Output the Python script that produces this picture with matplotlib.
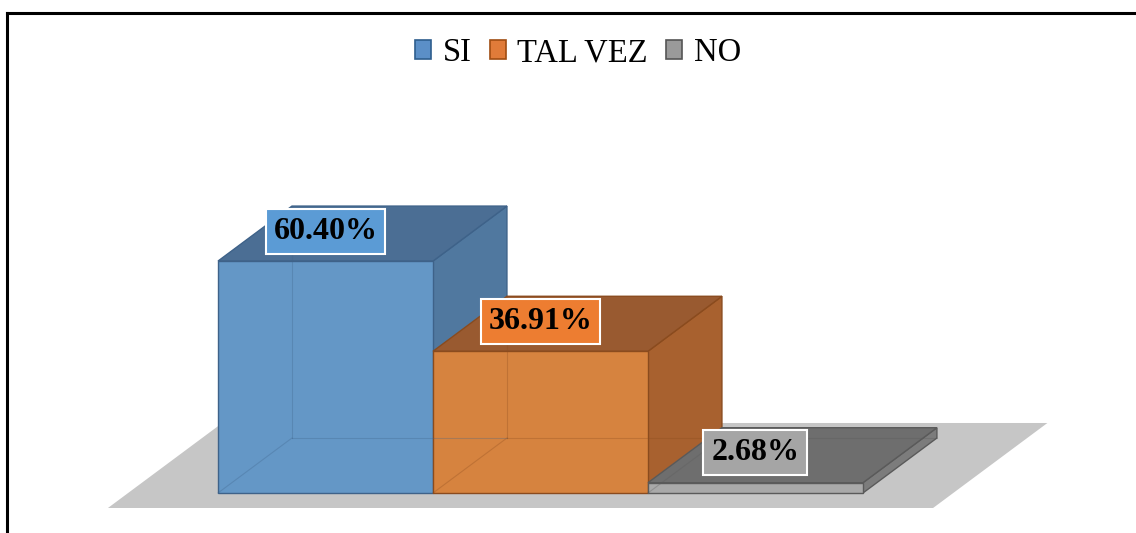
import numpy as np
import matplotlib.pyplot as plt
from matplotlib.patches import Polygon, Patch
from matplotlib.lines import Line2D


categories = ["SI", "TAL VEZ", "NO"]
values     = [60.40, 36.91, 2.68]
labels     = ["60.40%", "36.91%", "2.68%"]

frontCols = ["#6497c6", "#d6833f", "#a9a9a9"]
topCols   = ["#4b6e94", "#995a30", "#6e6e6e"]
sideCols  = ["#50789f", "#a8612f", "#7c7c7c"]
edgeCols  = ["#3e6289", "#8a4b1e", "#5a5a5a"]
lblCols   = ["#5b9bd5", "#ed7d31", "#a5a5a5"]
legCols   = ["#5b8fc7", "#e07b39", "#9a9a9a"]
legEdge   = ["#2e5e8e", "#a04d12", "#555555"]

# oblique projection of the depth axis (data units per unit depth)
kx = 0.344
ky = 14.32


def Proj(x, y, z):
  return (x + kx*z, y + ky*z)

def DrawBar(ax, x0, x1, h, iCol):
  ec = edgeCols[iCol]
  front = [Proj(x0, 0, 0), Proj(x1, 0, 0), Proj(x1, h, 0), Proj(x0, h, 0)]
  top   = [Proj(x0, h, 0), Proj(x1, h, 0), Proj(x1, h, 1), Proj(x0, h, 1)]
  side  = [Proj(x1, 0, 0), Proj(x1, 0, 1), Proj(x1, h, 1), Proj(x1, h, 0)]
  ax.add_patch(Polygon(side , closed=True, fc=sideCols[iCol] , ec=ec, lw=1.0))
  ax.add_patch(Polygon(top  , closed=True, fc=topCols[iCol]  , ec=ec, lw=1.0))
  ax.add_patch(Polygon(front, closed=True, fc=frontCols[iCol], ec=ec, lw=1.0))
  # hidden edges, seen through the semi transparent faces
  bl0 = Proj(x0, 0, 1)
  bl1 = Proj(x0, h, 1)
  br0 = Proj(x1, 0, 1)
  ax.plot([bl0[0], bl1[0]], [bl0[1], bl1[1]], color=ec, lw=0.8, alpha=0.3)
  ax.plot([bl0[0], br0[0]], [bl0[1], br0[1]], color=ec, lw=0.8, alpha=0.3)
  fl0 = Proj(x0, 0, 0)
  ax.plot([fl0[0], bl0[0]], [fl0[1], bl0[1]], color=ec, lw=0.8, alpha=0.3)
  return


fig = plt.figure(figsize=(11.36, 5.33), dpi=100)
ax  = fig.add_axes([0, 0, 1, 1])
ax.set_xlim(-1.014, 4.270)
ax.set_ylim(-10.42, 128.39)
ax.axis("off")

# floor
floor = [Proj(-0.418, 0, -0.273), Proj(3.42, 0, -0.273),
         Proj(3.42, 0, 1.273), Proj(-0.418, 0, 1.273)]
ax.add_patch(Polygon(floor, closed=True, fc="#c6c6c6", ec="none"))

for i, v in enumerate(values):
  DrawBar(ax, i, i + 1, v, i)

for i, v in enumerate(values):
  ax.annotate(labels[i], xy=(i + 0.5, v), xytext=(0, 21.6), textcoords="offset points",
              ha="center", va="center", fontsize=23, fontweight="bold",
              family="Liberation Serif", color="black",
              bbox=dict(boxstyle="square,pad=0.25", fc=lblCols[i], ec="white", lw=1.5))

handles = [Patch(fc=legCols[i], ec=legEdge[i], lw=1.2) for i in range(len(categories))]
fig.legend(handles, categories, loc="center", bbox_to_anchor=(578/1136, 1 - 53/533), ncol=3,
           frameon=False, prop={"family": "Liberation Serif", "size": 23.5},
           handlelength=0.5, handleheight=0.5, handletextpad=0.35, columnspacing=0.55)

# outer frame (only left and top edges visible)
fig.add_artist(Line2D([7/1136, 7/1136], [0, 1 - 13/533], color="black", lw=2.2, transform=fig.transFigure))
fig.add_artist(Line2D([7/1136, 1], [1 - 13/533, 1 - 13/533], color="black", lw=2.2, transform=fig.transFigure))

fig.savefig("out.png", dpi=100)
